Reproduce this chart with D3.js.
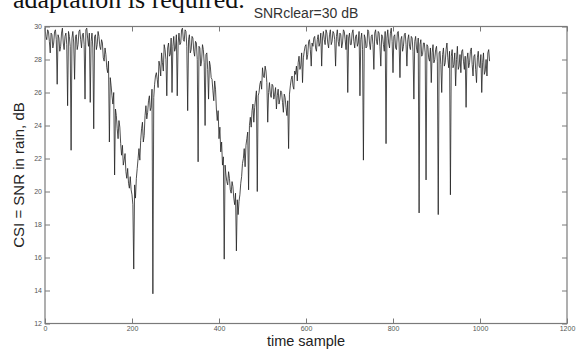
<!DOCTYPE html>
<html><head><meta charset="utf-8">
<script src="https://cdn.jsdelivr.net/npm/d3@7"></script>
<style>
html,body{margin:0;padding:0;background:#fff;}
svg{display:block;}
</style></head>
<body>
<svg id="chart" width="577" height="351"></svg>
<script>
// ---- data ----
const titleText = "SNRclear=30 dB";
const xLabel = "time sample";
const yLabel = "CSI = SNR in rain, dB";
const headerText = "adaptation is required.";
const xTicks = [0, 200, 400, 600, 800, 1000, 1200];
const yTicks = [12, 14, 16, 18, 20, 22, 24, 26, 28, 30];
const sampleStep = 2; // one value read every 2 time samples
const csi = [
 29.9,29.4,29.2,29.8,29.7,29.1,28.4,29.6,29.5,28.7,29.0,29.7,29.8,29.2,26.5,29.5,29.3,28.5,28.8,29.6,29.9,29.0,28.6,29.4,29.6,28.9,25.2,29.7,29.4,28.8,22.5,29.3,
 29.7,29.0,26.8,29.4,29.5,28.6,28.9,29.7,29.8,29.2,28.7,29.5,29.6,28.9,25.6,29.8,29.9,29.3,28.8,29.6,25.4,29.1,29.6,28.7,23.8,29.4,29.5,28.6,28.9,29.7,29.4,28.8,
 28.6,29.2,29.0,28.1,27.9,28.7,28.3,27.5,27.2,27.9,23.0,26.9,26.4,25.8,25.3,26.0,21.0,25.0,24.6,23.8,23.2,24.3,23.9,22.9,22.2,22.8,21.6,21.9,22.3,21.2,20.8,21.4,
 20.5,20.2,20.9,20.1,19.8,19.2,15.3,20.4,19.6,20.8,21.4,22.0,22.6,21.9,23.1,23.8,24.2,23.0,23.4,24.6,25.2,24.4,24.8,25.5,25.8,24.9,25.1,26.2,13.8,25.7,26.5,27.0,
 27.2,26.8,26.3,27.9,27.6,27.0,28.4,27.8,27.3,28.9,28.6,28.0,25.8,28.7,29.0,28.2,28.3,29.3,26.0,28.8,29.4,28.5,28.7,29.5,25.8,29.0,29.6,28.9,29.0,29.8,29.9,29.2,
 29.1,29.8,29.7,28.8,24.9,29.2,29.5,28.4,28.6,29.4,29.3,28.5,28.2,29.1,29.0,28.0,21.8,28.8,28.7,27.6,27.9,28.9,28.6,27.8,24.0,28.3,28.4,27.4,25.6,27.9,27.6,26.9,
 26.8,26.1,25.5,26.7,26.2,25.0,24.3,24.9,23.2,23.9,22.4,23.0,21.6,22.1,15.9,21.6,21.0,20.6,20.4,21.2,20.8,20.1,19.9,20.6,20.3,19.6,19.2,19.9,16.4,19.5,18.6,19.4,
 19.8,20.5,20.9,21.7,22.0,22.6,21.5,22.8,23.2,23.6,20.1,24.0,24.5,23.9,24.9,25.3,24.2,25.1,25.6,26.1,20.0,25.8,26.0,26.5,26.7,26.2,27.5,27.0,26.9,27.6,27.3,26.6,
 24.2,26.0,26.6,25.9,25.7,26.5,26.4,25.6,25.9,26.3,25.0,25.8,26.2,25.3,25.6,26.1,26.0,25.4,24.8,25.9,25.7,25.1,24.6,25.5,22.6,25.9,26.4,26.8,27.0,26.4,26.2,27.3,
 27.1,27.6,26.7,27.8,28.2,27.4,27.6,28.4,26.6,28.1,28.5,28.8,28.9,28.0,28.3,29.1,29.2,28.6,27.6,29.0,28.8,29.3,29.4,28.7,28.5,29.2,29.5,28.8,29.0,29.6,27.6,29.3,
 29.7,29.2,28.9,29.8,29.6,29.0,28.7,29.5,29.8,28.9,29.1,29.7,29.6,29.2,27.6,29.4,29.8,29.1,28.8,29.6,29.5,28.7,29.0,29.8,29.7,29.2,28.6,29.5,26.0,29.3,29.6,28.9,
 28.9,29.6,29.8,29.1,28.7,29.4,29.5,28.8,29.0,29.7,25.8,29.2,29.6,28.6,21.9,29.5,29.3,28.7,28.8,29.8,29.7,29.0,28.6,29.4,29.5,28.9,27.4,29.6,29.8,29.1,28.9,29.7,
 29.6,28.8,27.6,29.5,29.4,28.9,28.5,29.7,22.9,29.3,29.8,29.0,28.7,29.6,29.9,29.1,27.2,29.4,29.5,28.7,28.6,29.6,29.7,29.0,26.9,29.2,29.4,28.5,28.8,29.5,29.6,28.9,
 27.6,29.2,29.5,28.8,28.6,29.4,29.3,28.5,25.6,29.1,29.4,28.7,28.4,29.3,18.7,28.9,29.2,28.2,28.3,29.0,29.0,28.4,20.7,28.9,28.8,28.1,27.9,28.7,26.6,28.4,28.9,27.8,
 28.0,28.6,28.8,27.9,18.6,28.4,28.5,27.7,26.0,28.3,28.7,27.6,27.8,28.6,29.0,28.1,27.5,28.5,19.8,28.2,28.6,27.5,27.7,28.4,26.4,28.0,28.8,27.4,27.6,28.3,27.2,28.5,
 28.6,27.9,27.4,28.2,25.1,28.0,28.4,27.5,27.8,28.5,28.7,27.7,27.0,28.2,28.3,27.4,26.6,28.1,28.5,27.6,27.5,28.3,26.0,27.8,28.4,27.1,27.3,28.0,27.0,28.4,28.6,27.9
];

// ---- layout ----
const svg = d3.select("#chart");
const mLeft = 45, mRight = 567, mTop = 26.5, mBottom = 323.5;
const x = d3.scaleLinear().domain([0, 1200]).range([mLeft, mRight]);
const y = d3.scaleLinear().domain([12, 30]).range([mBottom, mTop]);
const axisColor = "#7a7a7a";
const tickLen = 5;
const fmt = d3.format("d");

// header text (cut off at top, from page scan)
svg.append("text").attr("x", 13).attr("y", 8)
  .attr("font-family", "'Liberation Serif','Times New Roman',serif")
  .attr("font-size", 26).attr("fill", "#111").text(headerText);

// data line
const pts = csi.map((v, i) => [i * sampleStep, v]);
svg.append("path").datum(pts)
  .attr("fill", "none").attr("stroke", "#222").attr("stroke-width", 0.8)
  .attr("stroke-linejoin", "round")
  .attr("d", d3.line().x(d => x(d[0])).y(d => y(d[1])));

// axes
function styleAxis(g){
  g.select(".domain").remove();
  g.selectAll(".tick line").attr("stroke", axisColor).attr("stroke-width", 1);
  g.selectAll(".tick text").attr("fill", "#555").attr("font-size", 7)
    .attr("font-family", "Arial, 'Liberation Sans', sans-serif");
}
svg.append("g").attr("transform", `translate(0,${mBottom})`)
  .call(d3.axisBottom(x).tickValues(xTicks).tickFormat(fmt).tickSize(-tickLen).tickPadding(3))
  .call(styleAxis);
svg.append("g").attr("transform", `translate(0,${mTop})`)
  .call(d3.axisTop(x).tickValues(xTicks).tickSize(-tickLen).tickFormat(""))
  .call(styleAxis);
svg.append("g").attr("transform", `translate(${mLeft},0)`)
  .call(d3.axisLeft(y).tickValues(yTicks).tickFormat(fmt).tickSize(-tickLen).tickPadding(3))
  .call(styleAxis);
svg.append("g").attr("transform", `translate(${mRight},0)`)
  .call(d3.axisRight(y).tickValues(yTicks).tickSize(-tickLen).tickFormat(""))
  .call(styleAxis);

// box
svg.append("rect").attr("x", mLeft).attr("y", mTop)
  .attr("width", mRight - mLeft).attr("height", mBottom - mTop)
  .attr("fill", "none").attr("stroke", axisColor).attr("stroke-width", 1.2);

// labels
svg.append("text").attr("x", (mLeft + mRight) / 2).attr("y", 18)
  .attr("text-anchor", "middle").attr("font-size", 14)
  .attr("font-family", "Arial, 'Liberation Sans', sans-serif")
  .attr("fill", "#333").text(titleText);
svg.append("text").attr("x", (mLeft + mRight) / 2).attr("y", 346)
  .attr("text-anchor", "middle").attr("font-size", 14.5)
  .attr("font-family", "Arial, 'Liberation Sans', sans-serif")
  .attr("fill", "#222").text(xLabel);
svg.append("text").attr("transform", `translate(24,${(mTop + mBottom) / 2}) rotate(-90)`)
  .attr("text-anchor", "middle").attr("font-size", 15)
  .attr("font-family", "Arial, 'Liberation Sans', sans-serif")
  .attr("fill", "#222").text(yLabel);
</script>
</body></html>
